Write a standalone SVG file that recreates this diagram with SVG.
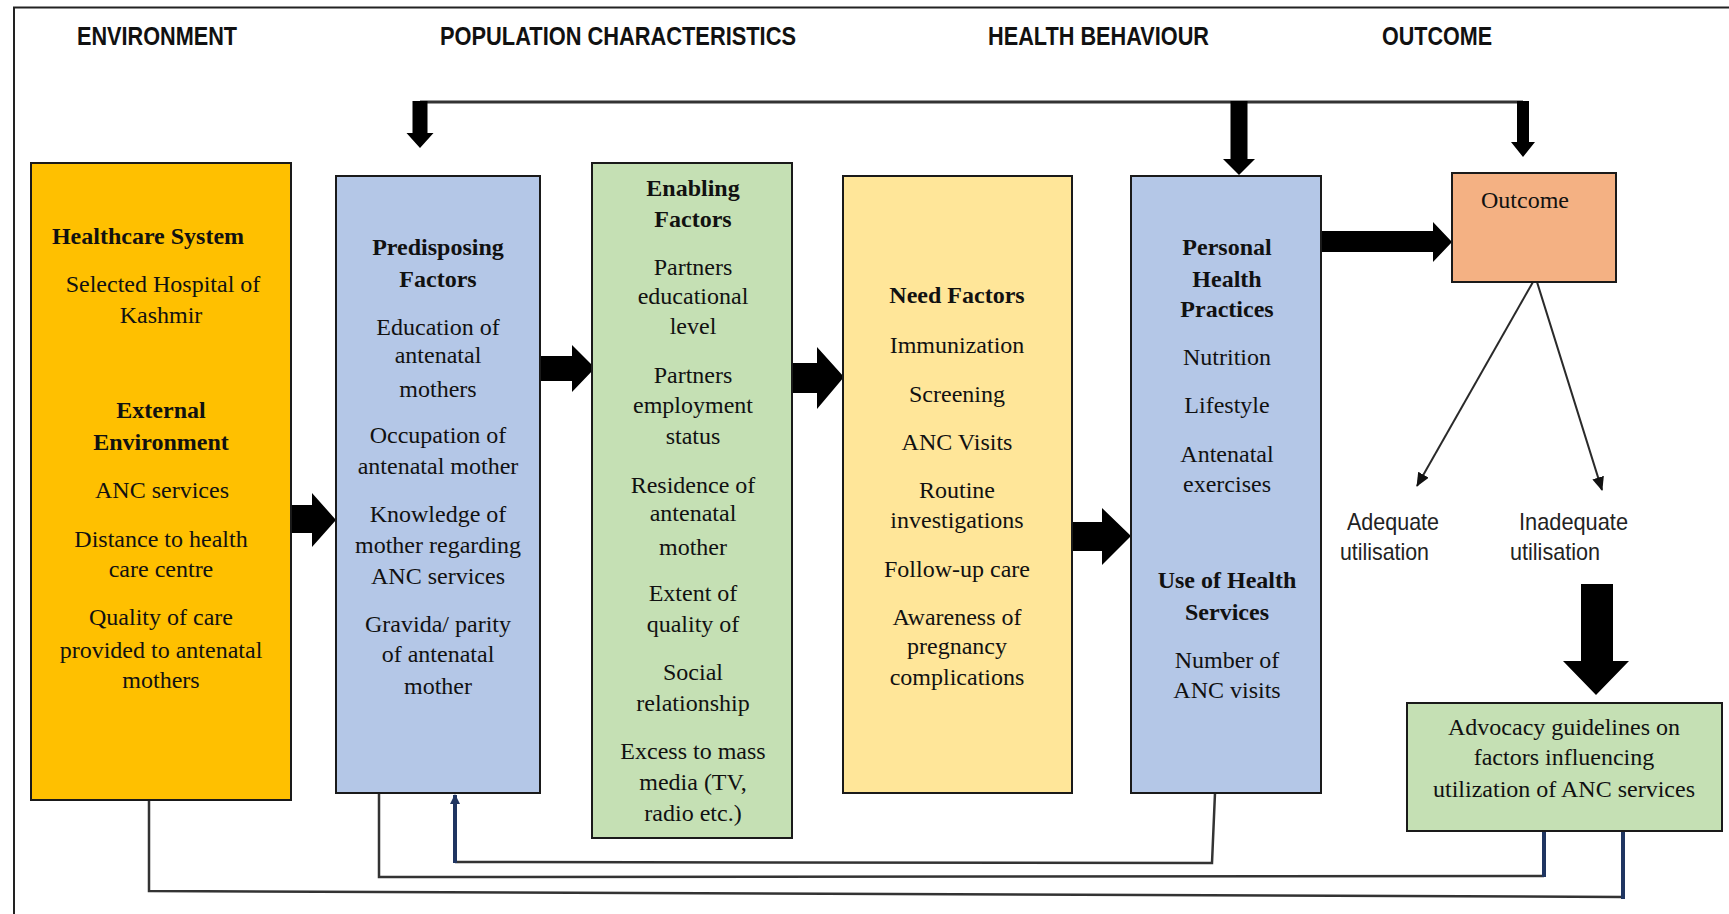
<svg xmlns="http://www.w3.org/2000/svg" width="1729" height="914" viewBox="0 0 1729 914">
  <style>
    .box { stroke: #1a1a1a; stroke-width: 2; }
    .t { font-family: "Liberation Serif", "Times New Roman", serif; font-size: 24px; fill: #111; text-anchor: middle; }
    .b { font-weight: bold; }
    .hdr { font-family: "Liberation Sans", Arial, sans-serif; font-size: 25px; font-weight: bold; fill: #111; }
    .lbl { font-family: "Liberation Sans", Arial, sans-serif; font-size: 24px; fill: #222; }
    .block { fill: #000; }
    .wire { fill: none; stroke: #333; stroke-width: 2.5; }
    .navy { fill: none; stroke: #1f3561; stroke-width: 4; }
    .thin { fill: none; stroke: #2a2a2a; stroke-width: 2; }
  </style>
  <defs>
    <marker id="tip" markerUnits="userSpaceOnUse" markerWidth="14" markerHeight="12" refX="13" refY="6" orient="auto">
      <path d="M0,0 L14,6 L0,12 z" fill="#111"/>
    </marker>
    <marker id="tipNavy" markerUnits="userSpaceOnUse" markerWidth="10" markerHeight="10" refX="9" refY="5" orient="auto">
      <path d="M0,0 L10,5 L0,10 z" fill="#1f3561"/>
    </marker>
  </defs>

  <rect width="1729" height="914" fill="#fff"/>

  <!-- outer frame (top and left edges) -->
  <path d="M14,914 V7.5 H1729" fill="none" stroke="#222" stroke-width="2"/>

  <!-- column headings -->
  <g id="headers">
    <text class="hdr" x="77" y="45" textLength="160" lengthAdjust="spacingAndGlyphs">ENVIRONMENT</text>
    <text class="hdr" x="440" y="45" textLength="356" lengthAdjust="spacingAndGlyphs">POPULATION CHARACTERISTICS</text>
    <text class="hdr" x="988" y="45" textLength="221" lengthAdjust="spacingAndGlyphs">HEALTH BEHAVIOUR</text>
    <text class="hdr" x="1382" y="45" textLength="110" lengthAdjust="spacingAndGlyphs">OUTCOME</text>
  </g>

  <!-- connectors -->
  <g id="connectors">
    <!-- feedback line along the top -->
    <path d="M420,102 H1523" fill="none" stroke="#333" stroke-width="3"/>
    <polygon class="block" points="412.5,101 427.5,101 427.5,133 433.5,133 420,148 406.5,133 412.5,133"/>
    <polygon class="block" points="1230.5,101 1247.5,101 1247.5,159 1255,159 1239,175 1223,159 1230.5,159"/>
    <polygon class="block" points="1517,101 1529,101 1529,142 1535,142 1523,157 1511,142 1517,142"/>

    <!-- block arrows between columns -->
    <polygon class="block" points="291,505 312,505 312,493 336,520 312,547 312,533 291,533"/>
    <polygon class="block" points="540,356 572,356 572,345 595,368 572,392 572,381 540,381"/>
    <polygon class="block" points="792,363 817,363 817,347 844,377 817,409 817,393 792,393"/>
    <polygon class="block" points="1072,522 1102,522 1102,508 1131,536 1102,565 1102,551 1072,551"/>
    <polygon class="block" points="1321,231 1433,231 1433,222 1452,242 1433,262 1433,252 1321,252"/>

    <!-- outcome split -->
    <line class="thin" x1="1533" y1="282" x2="1417" y2="486" marker-end="url(#tip)"/>
    <line class="thin" x1="1537" y1="282" x2="1602" y2="490" marker-end="url(#tip)"/>

    <!-- down to advocacy -->
    <polygon class="block" points="1581,584 1613,584 1613,661 1629,661 1596,695 1563,661 1581,661"/>

    <!-- feedback lines along the bottom -->
    <polyline class="wire" points="149,800 149,891 1623,897"/>
    <polyline class="wire" points="379,793 379,877 1544,876"/>
    <polyline class="wire" points="1215,793 1212,863 455,862"/>
    <line class="navy" x1="455" y1="863" x2="455" y2="795" marker-end="url(#tipNavy)"/>
    <line class="navy" x1="1544" y1="831" x2="1544" y2="877"/>
    <line class="navy" x1="1623" y1="831" x2="1623" y2="899"/>
  </g>

  <!-- Environment -->
  <g id="environment">
    <rect class="box" x="31" y="163" width="260" height="637" fill="#FFC000"/>
    <text class="t b" x="148" y="244">Healthcare System</text>
    <text class="t" x="163" y="292">Selected Hospital of</text>
    <text class="t" x="161" y="323">Kashmir</text>
    <text class="t b" x="161" y="418">External</text>
    <text class="t b" x="161" y="450">Environment</text>
    <text class="t" x="162" y="498">ANC services</text>
    <text class="t" x="161" y="547">Distance to health</text>
    <text class="t" x="161" y="577">care centre</text>
    <text class="t" x="161" y="625">Quality of care</text>
    <text class="t" x="161" y="658">provided to antenatal</text>
    <text class="t" x="161" y="688">mothers</text>
  </g>

  <!-- Predisposing factors -->
  <g id="predisposing">
    <rect class="box" x="336" y="176" width="204" height="617" fill="#B4C7E7"/>
    <text class="t b" x="438" y="255">Predisposing</text>
    <text class="t b" x="438" y="287">Factors</text>
    <text class="t" x="438" y="335">Education of</text>
    <text class="t" x="438" y="363">antenatal</text>
    <text class="t" x="438" y="397">mothers</text>
    <text class="t" x="438" y="443">Occupation of</text>
    <text class="t" x="438" y="474">antenatal mother</text>
    <text class="t" x="438" y="522">Knowledge of</text>
    <text class="t" x="438" y="553">mother regarding</text>
    <text class="t" x="438" y="584">ANC services</text>
    <text class="t" x="438" y="632">Gravida/ parity</text>
    <text class="t" x="438" y="662">of antenatal</text>
    <text class="t" x="438" y="694">mother</text>
  </g>

  <!-- Enabling factors -->
  <g id="enabling">
    <rect class="box" x="592" y="163" width="200" height="675" fill="#C5E0B4"/>
    <text class="t b" x="693" y="196">Enabling</text>
    <text class="t b" x="693" y="227">Factors</text>
    <text class="t" x="693" y="275">Partners</text>
    <text class="t" x="693" y="304">educational</text>
    <text class="t" x="693" y="334">level</text>
    <text class="t" x="693" y="383">Partners</text>
    <text class="t" x="693" y="413">employment</text>
    <text class="t" x="693" y="444">status</text>
    <text class="t" x="693" y="493">Residence of</text>
    <text class="t" x="693" y="521">antenatal</text>
    <text class="t" x="693" y="555">mother</text>
    <text class="t" x="693" y="601">Extent of</text>
    <text class="t" x="693" y="632">quality of</text>
    <text class="t" x="693" y="680">Social</text>
    <text class="t" x="693" y="711">relationship</text>
    <text class="t" x="693" y="759">Excess to mass</text>
    <text class="t" x="693" y="790">media (TV,</text>
    <text class="t" x="693" y="821">radio etc.)</text>
  </g>

  <!-- Need factors -->
  <g id="need">
    <rect class="box" x="843" y="176" width="229" height="617" fill="#FFE699"/>
    <text class="t b" x="957" y="303">Need Factors</text>
    <text class="t" x="957" y="353">Immunization</text>
    <text class="t" x="957" y="402">Screening</text>
    <text class="t" x="957" y="450">ANC Visits</text>
    <text class="t" x="957" y="498">Routine</text>
    <text class="t" x="957" y="528">investigations</text>
    <text class="t" x="957" y="577">Follow-up care</text>
    <text class="t" x="957" y="625">Awareness of</text>
    <text class="t" x="957" y="654">pregnancy</text>
    <text class="t" x="957" y="685">complications</text>
  </g>

  <!-- Personal health practices -->
  <g id="personal">
    <rect class="box" x="1131" y="176" width="190" height="617" fill="#B4C7E7"/>
    <text class="t b" x="1227" y="255">Personal</text>
    <text class="t b" x="1227" y="287">Health</text>
    <text class="t b" x="1227" y="317">Practices</text>
    <text class="t" x="1227" y="365">Nutrition</text>
    <text class="t" x="1227" y="413">Lifestyle</text>
    <text class="t" x="1227" y="462">Antenatal</text>
    <text class="t" x="1227" y="492">exercises</text>
    <text class="t b" x="1227" y="588">Use of Health</text>
    <text class="t b" x="1227" y="620">Services</text>
    <text class="t" x="1227" y="668">Number of</text>
    <text class="t" x="1227" y="698">ANC visits</text>
  </g>

  <!-- Outcome -->
  <g id="outcome">
    <rect class="box" x="1452" y="173" width="164" height="109" fill="#F4B183"/>
    <text class="t" x="1525" y="208">Outcome</text>
  </g>

  <g id="adequate">
    <text class="lbl" x="1347" y="530" textLength="92" lengthAdjust="spacingAndGlyphs">Adequate</text>
    <text class="lbl" x="1340" y="560" textLength="89" lengthAdjust="spacingAndGlyphs">utilisation</text>
  </g>

  <g id="inadequate">
    <text class="lbl" x="1519" y="530" textLength="109" lengthAdjust="spacingAndGlyphs">Inadequate</text>
    <text class="lbl" x="1510" y="560" textLength="90" lengthAdjust="spacingAndGlyphs">utilisation</text>
  </g>

  <!-- Advocacy guidelines -->
  <g id="advocacy">
    <rect class="box" x="1407" y="703" width="315" height="128" fill="#C5E0B4"/>
    <text class="t" x="1564" y="735">Advocacy guidelines on</text>
    <text class="t" x="1564" y="765">factors influencing</text>
    <text class="t" x="1564" y="797">utilization of ANC services</text>
  </g>
</svg>
